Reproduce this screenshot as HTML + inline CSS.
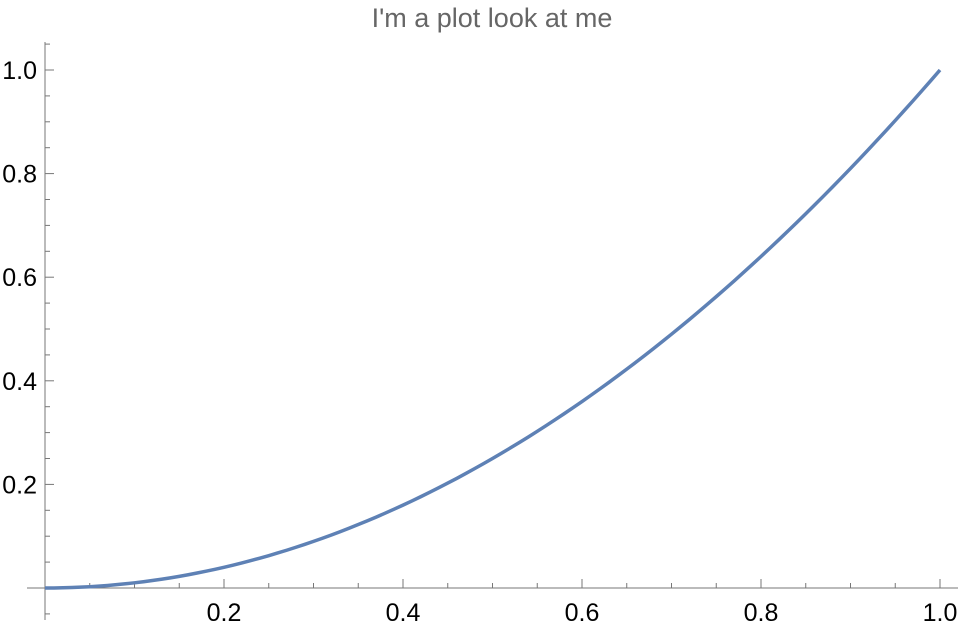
<!DOCTYPE html>
<html><head><meta charset="utf-8"><style>
body{margin:0;background:#fff;}
svg{display:block;font-family:"Liberation Sans",sans-serif;}
</style></head><body>
<svg id="chart" width="960" height="627">
<text x="492" y="27" text-anchor="middle" font-size="27" fill="#666">I'm a plot look at me</text>
<g id="axes"></g>
<path id="curve" fill="none" stroke="#5e81b5" stroke-width="3.5"></path>
</svg>
<script>
const xTicks=[0.2,0.4,0.6,0.8,1.0];
const xTickLabels=["0.2","0.4","0.6","0.8","1.0"];
const yTicks=[0.2,0.4,0.6,0.8,1.0];
const yTickLabels=["0.2","0.4","0.6","0.8","1.0"];
const curveX=[];for(let i=0;i<=100;i++)curveX.push(i/100);
const curveY=curveX.map(v=>v*v);
function sx(v){return 45+v*895;}
function sy(v){return 588-v*518;}
const NS="http://www.w3.org/2000/svg";
const g=document.getElementById('axes');
function ln(x1,y1,x2,y2,name){const l=document.createElementNS(NS,'line');l.setAttribute('x1',x1);l.setAttribute('y1',y1);l.setAttribute('x2',x2);l.setAttribute('y2',y2);l.setAttribute('stroke','#777');l.setAttribute('stroke-width','1');


g.appendChild(l);}
function tx(x,y,s,anchor,name){const t=document.createElementNS(NS,'text');t.setAttribute('x',x);t.setAttribute('y',y);t.setAttribute('text-anchor',anchor);t.setAttribute('font-size','25');t.setAttribute('fill','#000');t.textContent=s;


g.appendChild(t);}
ln(27,588,958,588,'x-axis');
ln(45,42,45,620,'y-axis');
for(let k=1;k<=20;k++){const v=k*0.05;const major=k%4==0;ln(sx(v),588,sx(v),588-(major?9:5),'x-tick');}
for(let k=-1;k<=21;k++){if(k==0)continue;const v=k*0.05;const major=k%4==0;ln(45,sy(v),45+(major?9:5),sy(v),'y-tick');}
xTicks.forEach((v,i)=>tx(sx(v),621,xTickLabels[i],'middle','x-tick-label'));
yTicks.forEach((v,i)=>tx(37,sy(v)+9,yTickLabels[i],'end','y-tick-label'));
document.getElementById('curve').setAttribute('d',curveX.map((v,i)=>(i?'L':'M')+sx(v).toFixed(2)+','+sy(curveY[i]).toFixed(2)).join(''));
</script>
</body></html>
